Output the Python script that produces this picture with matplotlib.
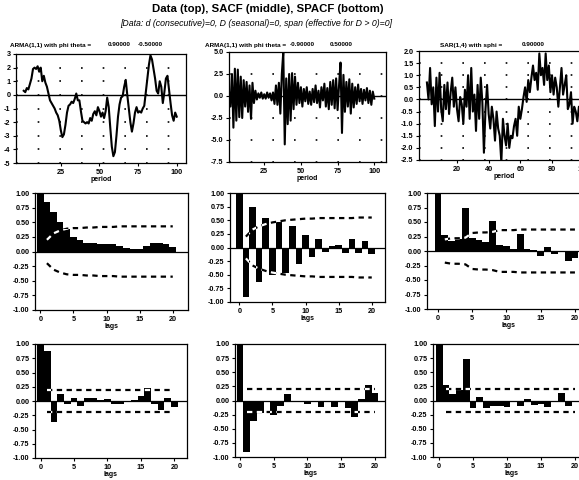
import matplotlib.pyplot as plt
import numpy as np
from matplotlib.path import Path

plt.rcParams['font.family'] = ['Liberation Sans', 'DejaVu Sans']

# ---- data: top row series (periods 1..100) ----
arma_a = [0.3, 0.2, 0.5, 0.4, 0.8, 1.2, 1.9, 2.0, 1.9, 2.1,
          1.7, 2.0, 1.0, 1.4, 0.9, 0.6, 0.1, -0.4, -0.6, -0.8,
          -1.0, -1.3, -1.5, -1.9, -2.6, -3.1, -2.9, -2.2, -1.3, -0.8,
          -0.7, -0.5, -0.6, -0.3, 0.1, -0.4, -0.4, -1.2, -1.9, -2.0,
          -2.1, -2.0, -2.1, -1.7, -1.9, -1.4, -1.2, -1.5, -0.9, -1.2,
          -1.6, -1.3, -1.7, -1.2, -0.2, -0.9, -2.4, -3.8, -4.5, -4.2,
          -3.0, -1.6, -0.7, -0.2, -0.1, 0.6, 1.1, 0.0, -1.0, -2.0,
          -2.7, -2.1, -1.3, -0.9, -1.3, -1.2, -1.3, -1.0, -0.8, 0.2,
          1.2, 2.2, 2.9, 2.6, 1.9, 1.2, 0.3, 0.1, 1.0, 0.6,
          -0.6, 0.2, 1.2, 1.4, 0.4, -0.6, -1.5, -1.9, -1.3, -1.6]
arma_b = [0.5, -1.2, 2.5, -3.6, 3.1, -2.8, 3.0, -2.4, 2.2, -2.5,
          1.8, -1.2, 1.6, -1.8, 1.2, -2.6, 1.5, -0.8, 0.6, -0.4,
          0.3, -0.2, 0.4, -0.3, 0.2, -0.3, 0.4, -0.2, 0.3, -0.5,
          0.4, -0.9, 1.2, -1.0, 1.5, -2.0, 2.5, 5.0, -5.5, 2.0,
          -3.2, 2.5, -2.8, 2.6, -1.5, 2.2, -1.0, 1.5, -0.8, 1.0,
          -1.2, 0.8, -0.6, 1.0, -0.9, 0.5, -1.0, 0.8, -0.7, 1.2,
          -0.8, 0.6, -1.3, 1.0, -0.5, 1.4, -1.2, 0.9, -1.5, 1.6,
          -1.0, 1.8, -1.4, 2.0, -1.6, 1.2, 3.8, -4.2, 2.4, -1.8,
          1.6, -1.2, 1.9, -2.0, 1.4, -1.3, 1.0, -0.9, 1.3, -0.6,
          0.8, -0.9, 0.7, -0.5, 0.9, -0.8, 0.6, -1.0, 0.5, -0.3]
sar_c = [0.7, 0.0, 1.3, -0.2, 0.5, -1.1, 0.9, -0.5, 1.1, -0.4,
         -0.9, 0.6, -0.4, 0.7, -0.6, 0.3, 0.9, -0.3, 0.5, -0.4,
         -0.9, 0.1, -0.2, -1.0, 0.4, -0.3, 1.0, -0.8, 1.3, -0.5,
         0.2, -1.3, 0.6, -0.8, 0.9, -0.1, -2.2, -0.4, 0.6, -0.6,
         -1.2, -0.3, -0.8, -1.7, -0.5, -1.2, -1.5, -2.6, -0.8, -1.5,
         -1.9, -1.0, -2.0, -1.5, -1.6, -1.1, -0.8, -1.5, -0.3, -0.8,
         -0.4, 0.1, 0.5, -0.1, 0.8, 0.3, 0.9, 1.4, 0.8, 1.1,
         0.4, 1.9, 1.0, 1.3, 0.6, 1.9, 0.8, 1.4, 0.3, 1.0,
         0.2, 0.9, 0.5, -0.3, 0.5, 1.3, 0.2, 0.6, 1.0, -0.4,
         -0.2, 0.3, -1.0, -0.3, -0.5, -0.9, -0.3, -0.6, -0.7, -0.5]

# ---- SACF (lags 0..20) ----
acf_a = [1.0, 0.84, 0.67, 0.50, 0.39, 0.25, 0.19, 0.14, 0.14, 0.13, 0.12,
         0.12, 0.09, 0.06, 0.04, 0.04, 0.10, 0.15, 0.15, 0.13, 0.08]
acf_b = [1.0, -0.91, 0.75, -0.63, 0.55, -0.51, 0.47, -0.46, 0.39, -0.31, 0.23,
         -0.18, 0.15, -0.09, 0.03, 0.05, -0.10, 0.15, -0.10, 0.12, -0.12]
acf_c = [1.0, 0.28, 0.17, 0.20, 0.75, 0.22, 0.19, 0.15, 0.52, 0.11, 0.09,
         0.04, 0.30, 0.04, 0.01, -0.08, 0.07, -0.06, -0.02, -0.17, -0.12]
# confidence bands for SACF (lags 1..20)
band_a = [0.20, 0.31, 0.36, 0.39, 0.40, 0.40, 0.41, 0.41, 0.42, 0.42,
          0.42, 0.43, 0.43, 0.43, 0.43, 0.43, 0.43, 0.43, 0.43, 0.43]
band_b = [0.20, 0.33, 0.39, 0.43, 0.46, 0.48, 0.50, 0.51, 0.52, 0.53,
          0.53, 0.54, 0.54, 0.54, 0.54, 0.54, 0.54, 0.55, 0.55, 0.55]
band_c = [0.20, 0.22, 0.22, 0.23, 0.31, 0.32, 0.32, 0.33, 0.36, 0.36,
          0.36, 0.37, 0.37, 0.37, 0.37, 0.37, 0.37, 0.37, 0.37, 0.37]

# ---- SPACF (lags 0..20) ----
pacf_a = [1.0, 0.87, -0.36, 0.12, -0.05, 0.05, -0.08, 0.06, 0.05, 0.01, 0.03,
          -0.05, -0.05, -0.01, 0.02, 0.09, 0.23, -0.05, -0.16, 0.05, -0.10]
pacf_b = [1.0, -0.91, -0.36, -0.22, -0.01, -0.26, -0.10, 0.12, -0.03, -0.02, -0.06,
          -0.03, -0.12, 0.0, -0.12, 0.0, -0.13, -0.30, 0.02, 0.28, 0.14]
pacf_c = [1.0, 0.28, 0.11, 0.19, 0.73, -0.13, 0.06, -0.14, -0.09, -0.09, -0.11,
          0.0, -0.09, 0.03, -0.08, -0.06, -0.11, -0.02, 0.14, -0.09, 0.0]
pband = 0.2

titles = [('ARMA(1,1) with phi theta =', '0.90000', '-0.50000'),
          ('ARMA(1,1) with phi theta =', '-0.90000', '0.50000'),
          ('SAR(1,4) with sphi =', '0.90000', None)]

W, H = 579, 480
fig = plt.figure(figsize=(W / 100, H / 100), dpi=100)


def px_axes(l, t, r, b):
    return fig.add_axes([l / W, 1 - b / H, (r - l) / W, (b - t) / H])


def style(ax):
    for s in ax.spines.values():
        s.set_linewidth(0.9)
    ax.tick_params(direction='out', length=2.5, width=0.8, labelsize=5.2, pad=1.5)
    for lab in ax.get_xticklabels() + ax.get_yticklabels():
        lab.set_fontweight('bold')


def series_panel(ax, y, ylim, yticks, fmt, xticks, xlim):
    x = np.arange(1, len(y) + 1)
    ax.plot(x, y, color='black', lw=1.5)
    ax.axhline(0, color='black', lw=1.0)
    ax.set_xlim(*xlim)
    ax.set_ylim(*ylim)
    ax.set_yticks(yticks)
    ax.set_yticklabels([fmt % v for v in yticks])
    ax.set_xticks(xticks)
    ax.yaxis.grid(True, linestyle=(0, (1, 12)), color='black', lw=1.2)
    ax.set_xlabel('period', fontsize=5, fontweight='bold', labelpad=0.5)
    style(ax)


def bar_panel(ax, vals, upper, lower, xlim):
    lags = np.arange(len(vals))
    bars = ax.bar(lags, vals, width=1.0, color='black', edgecolor='none')
    ax.axhline(0, color='black', lw=0.9)
    bl = np.arange(1, len(upper) + 1)
    # dashes turn white where they cross the black bars
    paths = [r.get_path().transformed(r.get_patch_transform()) for r in bars]
    clip = Path.make_compound_path(*paths)
    for band in (upper, lower):
        ax.plot(bl, band, color='black', lw=1.6, linestyle=(0, (2.4, 2.0)))
        wl, = ax.plot(bl, band, color='white', lw=1.6, linestyle=(0, (2.4, 2.0)))
        wl.set_clip_path(clip, ax.transData)
    ax.set_xlim(*xlim)
    ax.set_ylim(-1, 1)
    yt = np.arange(-1, 1.01, 0.25)
    ax.set_yticks(yt)
    ax.set_yticklabels(['%.2f' % v for v in yt])
    ax.set_xticks([0, 5, 10, 15, 20])
    ax.set_xlabel('lags', fontsize=5, fontweight='bold', labelpad=0.5)
    style(ax)


# top row
ax1 = px_axes(16, 54, 186, 163)
series_panel(ax1, arma_a, (-5, 3), list(range(-5, 4)), '%d', [25, 50, 75, 100], (-4, 106))
ax2 = px_axes(229, 52, 386, 162)
series_panel(ax2, arma_b, (-7.5, 5), [-7.5, -5, -2.5, 0, 2.5, 5], '%.1f', [25, 50, 75, 100], (1, 108))
ax3 = px_axes(419, 51, 590, 160)
series_panel(ax3, sar_c, (-2.5, 2), list(np.arange(-2.5, 2.01, 0.5)), '%.1f', [20, 40, 60, 80, 100], (-4, 104))

# middle row (SACF)
bar_panel(px_axes(35, 193, 188, 310), acf_a, band_a, [-v for v in band_a], (-0.8, 22.3))
bar_panel(px_axes(230, 193, 385, 302), acf_b, band_b, [-v for v in band_b], (-1.4, 22))
bar_panel(px_axes(427, 193, 590, 309), acf_c, band_c, [-v for v in band_c], (-1.6, 22.2))

# bottom row (SPACF)
pb = [pband] * 20
bar_panel(px_axes(35, 344, 187, 458), pacf_a, pb, [-v for v in pb], (-0.85, 21.9))
bar_panel(px_axes(235, 344, 385, 457), pacf_b, pb, [-v for v in pb], (-0.75, 21.5))
bar_panel(px_axes(433, 344, 590, 457), pacf_c, pb, [-v for v in pb], (-0.9, 22.2))

# panel titles
for (x0, x1, x2), (t, a, b) in zip([(10, 108, 138), (205, 290, 330), (440, 522, None)], titles):
    fig.text(x0 / W, 1 - 45 / H, t, fontsize=4.6, fontweight='bold', va='center')
    fig.text(x1 / W, 1 - 45 / H, a, fontsize=4.6, fontweight='bold', va='center')
    if b is not None:
        fig.text(x2 / W, 1 - 45 / H, b, fontsize=4.6, fontweight='bold', va='center')

fig.text(268 / W, 1 - 9 / H, 'Data (top), SACF (middle), SPACF (bottom)',
         fontsize=8.2, fontweight='bold', ha='center', va='center')
fig.text(256 / W, 1 - 23 / H,
         '[Data: d (consecutive)=0, D (seasonal)=0, span (effective for D > 0)=0]',
         fontsize=6.3, style='italic', ha='center', va='center')

fig.savefig('out.png', dpi=100)
